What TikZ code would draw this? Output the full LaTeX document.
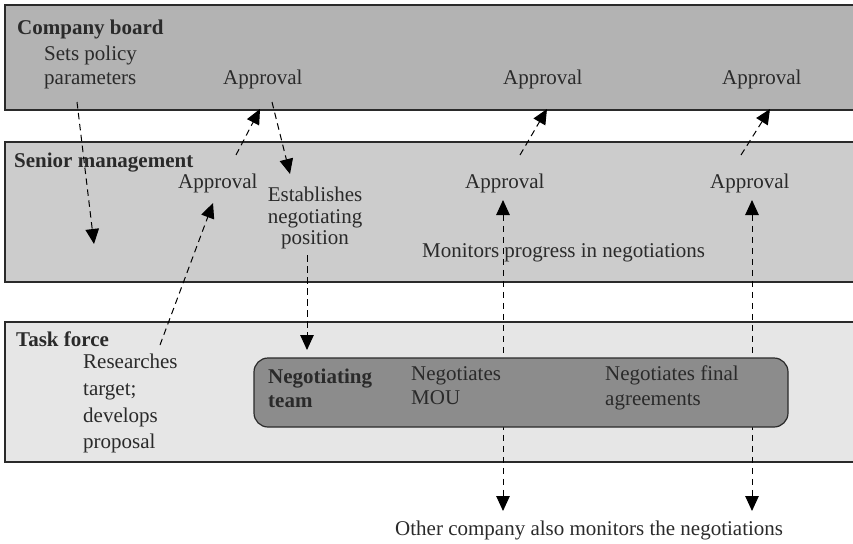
\documentclass[tikz,border=0pt]{standalone}
\usepackage{fontspec}
\setmainfont{Liberation Serif}
\usetikzlibrary{arrows.meta}
\definecolor{boardfill}{HTML}{B3B3B3}
\definecolor{seniorfill}{HTML}{CCCCCC}
\definecolor{taskfill}{HTML}{E6E6E6}
\definecolor{teamfill}{HTML}{8C8C8C}
\definecolor{inkgray}{HTML}{2A2A2A}
\begin{document}
\begin{tikzpicture}[x=1pt,y=-1pt,
  band/.style={draw=inkgray,line width=1.2pt},
  lbl/.style={anchor=base west,inner sep=0pt,text=inkgray,font=\fontsize{21}{27}\selectfont},
  head/.style={lbl,font=\fontsize{21}{27}\selectfont\bfseries},
  flow/.style={draw=black,line width=1pt,dash pattern=on 6.5pt off 4.5pt,
    -{Triangle[length=15pt,width=13.5pt]}},
  both/.style={flow,{Triangle[length=15pt,width=13.5pt]}-{Triangle[length=15pt,width=13.5pt]}}
]
\useasboundingbox (0,0) rectangle (853,543);

% organisational levels
\path[band,fill=boardfill]  (5,5)   rectangle (860,110);
\path[band,fill=seniorfill] (5,142) rectangle (860,282);
\path[band,fill=taskfill]   (5,322) rectangle (860,462);

% level titles
\node[head] (board)  at (17,35)  {Company board};
\node[head] (senior) at (14,167) {Senior management};
\node[head] (task)   at (16,346) {Task force};

% company board texts
\node[lbl] (policy1) at (44,60) {Sets policy};
\node[lbl] (policy2) at (44,84) {parameters};
\node[lbl] (bapp1) at (223,84) {Approval};
\node[lbl] (bapp2) at (503,84) {Approval};
\node[lbl] (bapp3) at (722,84) {Approval};

% senior management texts
\node[lbl] (sapp1) at (178,188) {Approval};
\node[lbl] (sapp2) at (465,188) {Approval};
\node[lbl] (sapp3) at (710,188) {Approval};
\node[lbl,align=center,anchor=north,font=\fontsize{21}{21.5}\selectfont] (establish) at (315,187)
  {Establishes\\negotiating\\position};

% task force texts
\node[lbl,align=left,anchor=north west,font=\fontsize{21}{26.7}\selectfont] (research) at (83,354)
  {Researches\\target;\\develops\\proposal};

% connector end points
\coordinate (pA) at (77,102);   \coordinate (pB) at (94,244);
\coordinate (aA) at (236,155);  \coordinate (aB) at (260,109);
\coordinate (eA) at (272,102);  \coordinate (eB) at (290,174);
\coordinate (rA) at (160,345);  \coordinate (rB) at (213,203);
\coordinate (nA) at (307,255);  \coordinate (nB) at (307,350);
\coordinate (mA) at (520,155);  \coordinate (mB) at (547,109);
\coordinate (fA) at (741,155);  \coordinate (fB) at (770,109);
\coordinate (oU1) at (503,200); \coordinate (oD1) at (503,511);
\coordinate (oU2) at (752,200); \coordinate (oD2) at (752,511);

% monitoring by both sides
\draw[both] (oU1) -- (oD1);
\draw[both] (oU2) -- (oD2);
\node[lbl] (monitor) at (422,257) {Monitors progress in negotiations};
\node[lbl] (other) at (395,535) {Other company also monitors the negotiations};

% negotiating team
\path[draw=inkgray,line width=1.2pt,fill=teamfill,rounded corners=14pt] (254,358) rectangle (788,427);
\node[head,font=\fontsize{21}{23.5}\selectfont\bfseries,align=left,anchor=north west] (team) at (268,369) {Negotiating\\team};
\node[lbl,align=left,anchor=north west,font=\fontsize{21}{24.5}\selectfont] (mou) at (411,366) {Negotiates\\MOU};
\node[lbl,align=left,anchor=north west,font=\fontsize{21}{24.5}\selectfont] (final) at (605,366) {Negotiates final\\agreements};

% approval and delegation flows
\draw[flow] (pA) -- (pB);
\draw[flow] (aA) -- (aB);
\draw[flow] (eA) -- (eB);
\draw[flow] (rA) -- (rB);
\draw[flow] (nA) -- (nB);
\draw[flow] (mA) -- (mB);
\draw[flow] (fA) -- (fB);
\end{tikzpicture}
\end{document}
